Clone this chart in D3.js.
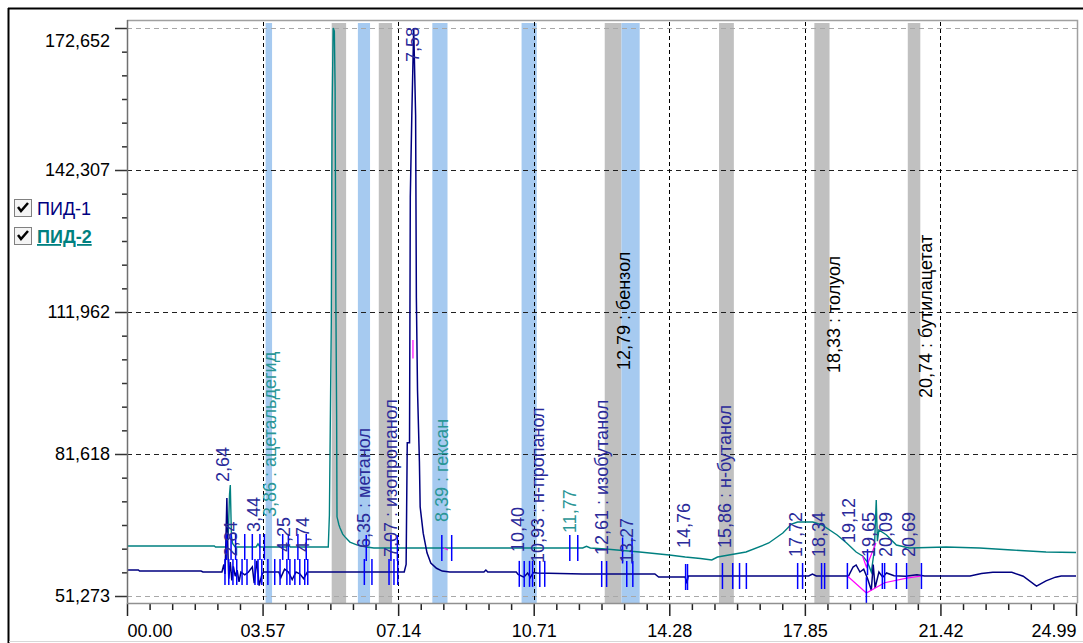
<!DOCTYPE html>
<html>
<head>
<meta charset="utf-8">
<script src="https://cdn.jsdelivr.net/npm/d3@7"></script>
<style>
    body { margin: 0; background: #fff; }
    svg { display: block; font-family: "Liberation Sans", Arial, sans-serif; }
    .axis text { font-size: 18px; fill: #000; }
    .peak { font-size: 18px; }
</style>
</head>
<body>
<div id="chromatogram"></div>
<script>
// time axis (min) and signal axis
let timeTicks = [0, 3.57, 7.14, 10.71, 14.28, 17.85, 21.42, 24.99]
let timeTickLabels = ["00.00", "03.57", "07.14", "10.71", "14.28", "17.85", "21.42", "24.99"]
let signalTicks = [51273, 81618, 111962, 142307, 172652]
let signalTickLabels = ["51,273", "81,618", "111,962", "142,307", "172,652"]

// ПИД-1 signal [time, value]
let pid1 = [[0.00, 56830], [0.30, 56830], [0.33, 56620], [1.95, 56620], [2.00, 56400], [2.50, 56400],
    [2.55, 58000], [2.58, 56000], [2.60, 61500], [2.63, 72200], [2.66, 60000], [2.68, 55000], [2.72, 58500],
    [2.76, 54600], [2.80, 57600], [2.85, 55500], [2.90, 56800], [2.95, 54300], [3.00, 56400], [3.10, 55800],
    [3.20, 56400], [3.30, 57500], [3.35, 54000], [3.42, 58800], [3.48, 53500], [3.55, 55800], [3.60, 56400],
    [4.00, 56400], [4.05, 55200], [4.15, 57000], [4.25, 56400], [4.35, 54800], [4.45, 56400], [4.55, 56000],
    [4.65, 55000], [4.75, 56400], [7.30, 56400], [7.35, 58000], [7.38, 84000], [7.44, 84000], [7.46, 136500],
    [7.50, 154000], [7.55, 172652], [7.60, 154000], [7.62, 115000], [7.65, 95300], [7.70, 80000], [7.72, 70300],
    [7.80, 64700], [7.90, 60500], [8.00, 58300], [8.15, 57200], [8.30, 56600], [8.50, 56400], [9.40, 56400],
    [9.45, 56830], [9.50, 56400], [10.25, 56400], [10.30, 55900], [10.45, 55300], [10.55, 56200], [10.62, 55200],
    [10.70, 56300], [10.80, 56200], [12.00, 55970], [13.90, 55970], [14.00, 55330], [14.70, 55330], [14.74, 54000],
    [14.78, 55550], [17.95, 55550], [18.05, 55970], [18.15, 55550], [19.00, 55550], [19.12, 57470], [19.20, 57900],
    [19.30, 56400], [19.40, 57000], [19.50, 55000], [19.60, 52500], [19.65, 58000], [19.70, 53000], [19.80, 56400],
    [19.90, 55300], [20.00, 56200], [20.20, 55600], [20.50, 55500], [20.80, 55800], [21.00, 55550], [22.20, 55550],
    [22.50, 56100], [22.80, 56330], [23.30, 56330], [23.60, 55500], [23.95, 53400], [24.20, 54500], [24.45, 55300],
    [24.60, 55550], [24.99, 55550]]

// ПИД-2 signal [time, value]
let pid2 = [[0.00, 61960], [2.30, 61960], [2.33, 61750], [2.62, 61750], [2.67, 65000], [2.70, 73000], [2.72, 75000],
    [2.75, 64000], [2.78, 62500], [2.85, 61750], [3.40, 61750], [3.45, 62400], [3.50, 61750], [4.20, 61750],
    [4.25, 62200], [4.30, 61750], [5.30, 61750], [5.33, 68600], [5.38, 110000], [5.40, 155000], [5.43, 172652],
    [5.46, 172000], [5.48, 160000], [5.50, 114500], [5.52, 90000], [5.53, 68200], [5.58, 66500], [5.61, 65800],
    [5.68, 64500], [5.74, 63900], [5.87, 62800], [6.05, 62200], [6.30, 61750], [6.50, 61530], [12.00, 61530],
    [12.10, 61900], [12.20, 61530], [12.60, 61320], [13.50, 60680], [14.28, 60035], [14.70, 59600], [15.10, 59300],
    [15.40, 58970], [15.55, 59600], [16.30, 60680], [16.90, 62600], [17.27, 64740], [17.50, 66660], [17.66, 67090],
    [18.06, 67090], [18.30, 66450], [18.70, 64310], [18.95, 62600], [19.20, 60680], [19.37, 59820], [19.50, 58500],
    [19.60, 56400], [19.68, 61100], [19.73, 71800], [19.76, 63000], [19.80, 65380], [20.00, 64310], [20.26, 62170],
    [20.60, 61530], [21.57, 61750], [22.45, 61530], [23.30, 61100], [24.20, 60680], [24.99, 60560]]

// peak start / end marks [time, value]
let pid1Marks = [[2.58, 56400], [2.68, 56400], [2.79, 56400], [2.89, 56400], [3.03, 56400], [3.16, 56400],
    [3.37, 56400], [3.45, 56400], [3.55, 56400], [3.71, 56400], [3.89, 56400], [4.03, 56400], [4.21, 56400],
    [4.29, 56400], [4.42, 56400], [4.55, 56400], [4.68, 56400], [4.76, 56400], [6.25, 56400], [6.45, 56400],
    [6.90, 56400], [7.03, 56400], [7.13, 56400], [10.33, 56000], [10.46, 56000], [10.60, 56000], [10.68, 56000],
    [10.87, 56000], [11.00, 56000], [12.50, 55970], [12.63, 55970], [13.16, 55970], [13.32, 55970], [14.71, 55330],
    [14.76, 55330], [15.68, 55550], [15.95, 55550], [16.13, 55550], [16.31, 55550], [17.66, 55550], [17.79, 55550],
    [18.29, 55550], [18.37, 55550], [18.97, 55550], [19.47, 52500], [19.89, 55550], [19.95, 55550], [20.26, 55550],
    [20.53, 55550], [20.92, 55550]]
let pid2Marks = [[2.62, 61750], [2.74, 61750], [2.86, 61750], [3.10, 61750], [3.30, 61750], [3.50, 61750],
    [3.62, 61750], [4.10, 61750], [4.25, 61750], [4.50, 61750], [4.72, 61750], [6.30, 61530], [6.95, 61530],
    [7.12, 61530], [8.29, 61530], [8.55, 61530], [11.66, 61530], [11.87, 61530], [13.05, 61000], [13.30, 61000],
    [19.50, 58500]]

// integration baselines
let baselines = [
    [[18.97, 55550], [19.47, 51900], [19.95, 54100], [20.53, 55100], [20.92, 55550]],
    [[19.37, 59820], [19.47, 57470], [19.72, 62600]],
    [[7.53, 106000], [7.53, 102000]],
    [[8.35, 61530], [8.45, 61100]]
]

// retention windows [start, end]
let grayBands = [[5.39, 5.77], [6.63, 6.98], [12.58, 13.02], [15.59, 15.98], [18.10, 18.50], [20.56, 20.89]]
let blueBands = [[3.65, 3.82], [6.08, 6.40], [8.04, 8.44], [10.39, 10.79], [13.02, 13.50]]

// peak labels [text, time, value at label start]
let pid1Labels = [["2,64", 2.64, 75635], ["2,84", 2.84, 59700], ["3,44", 3.44, 64950], ["4,25", 4.25, 60676],
    ["4,74", 4.74, 60676], ["6,35 : метанол", 6.35, 61531], ["7,07 : изопропанол", 7.07, 59607],
    ["7,58", 7.64, 165390], ["10,40", 10.40, 60676], ["10,93 : н-пропанол", 10.93, 58325],
    ["12,61 : изобутанол", 12.61, 60035], ["13,27", 13.27, 58325], ["14,76", 14.76, 61531],
    ["15,86 : н-бутанол", 15.86, 61531], ["17,72", 17.72, 59607], ["18,34", 18.34, 59607],
    ["19,12", 19.12, 62600], ["19,65", 19.65, 59607], ["20,09", 20.09, 59607], ["20,69", 20.69, 59607]]
let pid2Labels = [["3,86 : ацетальдегид", 3.86, 68155], ["8,39 : гексан", 8.39, 67087], ["11,77", 11.77, 64736]]
let compoundLabels = [["12,79 : бензол", 12.79, 99569], ["18,33 : толуол", 18.33, 98928],
    ["20,74 : бутилацетат", 20.74, 93585]]

let w = 1083
let h = 643
let plotLeft = 127, plotRight = 1077, plotTop = 20, plotBottom = 603

let svg = d3.select("#chromatogram")
    .append("svg")
    .attr("width", w)
    .attr("height", h)

let x = d3.scaleLinear().domain([0, 24.99]).range([127, 1076])
let y = d3.scaleLinear().domain([51273, 172652]).range([596, 28])

// outer frame
svg.append("line").attr("x1", 8).attr("x2", w).attr("y1", 8.5).attr("y2", 8.5)
    .attr("stroke", "#000").attr("stroke-width", 2)
svg.append("line").attr("x1", 8.5).attr("x2", 8.5).attr("y1", 8).attr("y2", h)
    .attr("stroke", "#000").attr("stroke-width", 2)
svg.append("line").attr("x1", 9).attr("x2", w).attr("y1", 641.5).attr("y2", 641.5)
    .attr("stroke", "#d8d8d8")

// retention windows
svg.selectAll(".gray").data(grayBands).enter().append("rect")
    .attr("x", d => x(d[0])).attr("width", d => x(d[1]) - x(d[0]))
    .attr("y", 23).attr("height", plotBottom - 23)
    .attr("fill", "#c0c0c0")
svg.selectAll(".blue").data(blueBands).enter().append("rect")
    .attr("x", d => x(d[0])).attr("width", d => x(d[1]) - x(d[0]))
    .attr("y", 23).attr("height", plotBottom - 23)
    .attr("fill", "#a6caf0")

// grid
svg.selectAll(".hgrid").data(signalTicks).enter().append("line")
    .attr("x1", plotLeft).attr("x2", plotRight)
    .attr("y1", d => Math.round(y(d)) + 0.5).attr("y2", d => Math.round(y(d)) + 0.5)
    .attr("stroke", (d, i) => (i == 0 || i == signalTicks.length - 1) ? "#a8a8a8" : "#202020")
    .attr("stroke-dasharray", "5,4")
svg.selectAll(".vgrid").data(timeTicks.slice(1, -1)).enter().append("line")
    .attr("x1", d => Math.round(x(d)) + 0.5).attr("x2", d => Math.round(x(d)) + 0.5)
    .attr("y1", 22).attr("y2", plotBottom)
    .attr("stroke", "#000")
    .attr("stroke-dasharray", "4,3")

// plot frame
svg.append("path")
    .attr("d", `M${plotLeft},${plotTop + 0.5}H${plotRight + 0.5}V${plotBottom}`)
    .attr("fill", "none").attr("stroke", "#a0a0a0").attr("stroke-width", 1.5)

let line = d3.line().x(d => x(d[0])).y(d => y(d[1]))

// signals
svg.append("path").datum(pid2)
    .attr("fill", "none").attr("stroke", "#008080").attr("stroke-width", 1.4)
    .attr("d", line)
svg.append("path").datum(pid1)
    .attr("fill", "none").attr("stroke", "#000080").attr("stroke-width", 1.5)
    .attr("d", line)

// baselines
svg.selectAll(".base").data(baselines).enter().append("path")
    .attr("fill", "none").attr("stroke", "#ff00ff").attr("stroke-width", 1.2)
    .attr("d", line)

// peak marks
svg.selectAll(".mark").data(pid1Marks.concat(pid2Marks)).enter().append("line")
    .attr("x1", d => x(d[0])).attr("x2", d => x(d[0]))
    .attr("y1", d => y(d[1]) - 13).attr("y2", d => y(d[1]) + 13)
    .attr("stroke", "#0000ff").attr("stroke-width", 1.5)

// peak labels, rotated
let addLabels = (data, colour, dx) => {
    svg.selectAll(null).data(data).enter().append("text")
        .attr("class", "peak")
        .attr("transform", d => `translate(${x(d[1]) + dx},${y(d[2])}) rotate(-90)`)
        .attr("fill", colour)
        .text(d => d[0])
}
addLabels(pid1Labels, "#2a2a9a", 2)
addLabels(pid2Labels, "#2a9696", 2)
addLabels(compoundLabels, "#000", 17)

// y axis
let minorY = []
for (let i = 0; i < signalTicks.length - 1; i++) {
    let step = (signalTicks[i + 1] - signalTicks[i]) / 6
    for (let k = 1; k < 6; k++) minorY.push(signalTicks[i] + k * step)
}
let yAxis = svg.append("g").attr("class", "axis")
    .attr("transform", `translate(${plotLeft}, 0)`)
    .call(d3.axisLeft(y).tickValues(signalTicks).tickFormat((d, i) => signalTickLabels[i])
        .tickSize(12).tickPadding(5))
yAxis.select(".domain").remove()
yAxis.selectAll(".tick:last-of-type text").attr("dy", "1em")
yAxis.selectAll("line").attr("stroke", "#333").attr("stroke-width", 1.5)
let yMinor = svg.append("g")
    .attr("transform", `translate(${plotLeft}, 0)`)
    .call(d3.axisLeft(y).tickValues(minorY).tickFormat("").tickSize(5))
yMinor.select(".domain").remove()
yMinor.selectAll("line").attr("stroke", "#333").attr("stroke-width", 1.5)
svg.append("line").attr("x1", plotLeft + 0.5).attr("x2", plotLeft + 0.5).attr("y1", plotTop).attr("y2", plotBottom)
    .attr("stroke", "#707070").attr("stroke-width", 1.5)

// x axis
let minorX = []
for (let i = 0; i < timeTicks.length - 1; i++) {
    let step = (timeTicks[i + 1] - timeTicks[i]) / 6
    for (let k = 1; k < 6; k++) minorX.push(timeTicks[i] + k * step)
}
let xAxis = svg.append("g").attr("class", "axis")
    .attr("transform", `translate(0, ${plotBottom})`)
    .call(d3.axisBottom(x).tickValues(timeTicks).tickFormat((d, i) => timeTickLabels[i])
        .tickSize(13).tickPadding(8))
xAxis.select(".domain").remove()
xAxis.selectAll("line").attr("stroke", "#222").attr("stroke-width", 1.5)
xAxis.selectAll(".tick:first-of-type text").attr("text-anchor", "start")
xAxis.selectAll(".tick:last-of-type text").attr("text-anchor", "end")
let xMinor = svg.append("g")
    .attr("transform", `translate(0, ${plotBottom})`)
    .call(d3.axisBottom(x).tickValues(minorX).tickFormat("").tickSize(7))
xMinor.select(".domain").remove()
xMinor.selectAll("line").attr("stroke", "#222").attr("stroke-width", 1.5)
svg.append("line").attr("x1", plotLeft).attr("x2", plotRight).attr("y1", plotBottom + 0.5).attr("y2", plotBottom + 0.5)
    .attr("stroke", "#909090").attr("stroke-width", 1.5)

// legend with check boxes
let legend = [["ПИД-1", "#000080", "normal", "none"], ["ПИД-2", "#008080", "bold", "underline"]]
let lg = svg.selectAll(".legend").data(legend).enter().append("g")
    .attr("transform", (d, i) => `translate(14, ${199 + i * 28})`)
lg.append("rect").attr("x", 0.5).attr("y", 0.5).attr("width", 17).attr("height", 17)
    .attr("fill", "#f4f4f4").attr("stroke", "#808080")
lg.append("path").attr("d", "M4,8 L7,12 L14,4")
    .attr("fill", "none").attr("stroke", "#000").attr("stroke-width", 2.5)
lg.append("text")
    .attr("x", 23).attr("y", 16)
    .attr("fill", d => d[1])
    .style("font-size", "18px")
    .style("font-weight", d => d[2])
    .style("text-decoration", d => d[3])
    .text(d => d[0])
</script>
</body>
</html>
